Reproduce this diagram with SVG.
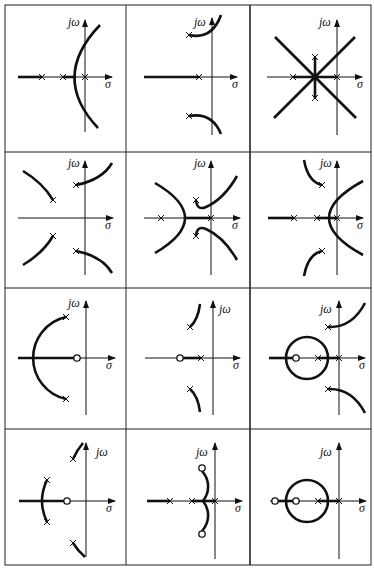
<svg xmlns="http://www.w3.org/2000/svg" xmlns:xlink="http://www.w3.org/1999/xlink" width="374" height="568" viewBox="0 0 374 568">
<style>
.grid{stroke:#222;stroke-width:1;fill:none}
.ax{stroke:#111;stroke-width:1;fill:none}
.loc{stroke:#111;stroke-width:2.6;fill:none;stroke-linecap:butt}
.x{stroke:#111;stroke-width:1;fill:none}
.z{stroke:#111;stroke-width:1.3;fill:#fff}
.lbl{font-family:"Liberation Serif",serif;font-style:italic;font-size:12px;fill:#111}
</style>
<defs>
<marker id="ar" markerWidth="8" markerHeight="6" refX="7" refY="3" orient="auto" markerUnits="userSpaceOnUse">
<path d="M0,0L8,3L0,6Z" fill="#111"/>
</marker>
<path id="cr" d="M-3,-3L3,3M-3,3L3,-3" class="x"/>
</defs>
<rect width="374" height="568" fill="#fff"/>
<g id="grid" class="grid">
<rect x="5" y="5" width="366" height="560"/>
<line x1="126" y1="5" x2="126" y2="565"/>
<line x1="250" y1="5" x2="250" y2="565" stroke-width="1.6"/>
<line x1="5" y1="152" x2="371" y2="152"/>
<line x1="5" y1="288" x2="371" y2="288"/>
<line x1="5" y1="429" x2="371" y2="429"/>
</g>

<g id="p11">
<line class="ax" x1="18" y1="77" x2="112" y2="77" marker-end="url(#ar)"/>
<line class="ax" x1="85" y1="132" x2="85" y2="20" marker-end="url(#ar)"/>
<text class="lbl" x="68" y="26">jω</text>
<text class="lbl" x="105" y="88">σ</text>
<line class="loc" x1="18" y1="77" x2="42" y2="77"/>
<line class="loc" x1="63" y1="77" x2="76" y2="77"/>
<path class="loc" d="M100,25 Q50,77 98,128"/>
<use xlink:href="#cr" x="42" y="77"/><use xlink:href="#cr" x="63" y="77"/><use xlink:href="#cr" x="85" y="77"/>
</g>

<g id="p12">
<line class="ax" x1="144" y1="77" x2="237" y2="77" marker-end="url(#ar)"/>
<line class="ax" x1="212" y1="135" x2="212" y2="18" marker-end="url(#ar)"/>
<text class="lbl" x="194" y="26">jω</text>
<text class="lbl" x="232" y="88">σ</text>
<line class="loc" x1="144" y1="77" x2="199" y2="77"/>
<path class="loc" d="M189,35 Q212,40 221,15"/>
<path class="loc" d="M189,116 Q212,112 221,134"/>
<use xlink:href="#cr" x="199" y="77"/><use xlink:href="#cr" x="189" y="35"/><use xlink:href="#cr" x="189" y="116"/>
</g>

<g id="p13">
<line class="ax" x1="267" y1="77" x2="362" y2="77" marker-end="url(#ar)"/>
<line class="ax" x1="337" y1="135" x2="337" y2="20" marker-end="url(#ar)"/>
<text class="lbl" x="319" y="26">jω</text>
<text class="lbl" x="357" y="88">σ</text>
<line class="loc" x1="293" y1="77" x2="337" y2="77"/>
<line class="loc" x1="315" y1="57" x2="315" y2="98"/>
<line class="loc" x1="275" y1="37" x2="356" y2="118"/>
<line class="loc" x1="355" y1="37" x2="274" y2="118"/>
<use xlink:href="#cr" x="293" y="77"/><use xlink:href="#cr" x="337" y="77"/><use xlink:href="#cr" x="315" y="57"/><use xlink:href="#cr" x="315" y="98"/>
</g>

<g id="p21">
<line class="ax" x1="18" y1="218" x2="113" y2="218" marker-end="url(#ar)"/>
<line class="ax" x1="85" y1="275" x2="85" y2="161" marker-end="url(#ar)"/>
<text class="lbl" x="68" y="167">jω</text>
<text class="lbl" x="105" y="229">σ</text>
<path class="loc" d="M53,200 Q43,183 23,171"/>
<path class="loc" d="M53,236 Q43,253 23,265"/>
<path class="loc" d="M76,185 Q102,180 112,163"/>
<path class="loc" d="M76,251 Q102,256 112,273"/>
<use xlink:href="#cr" x="53" y="200"/><use xlink:href="#cr" x="53" y="236"/><use xlink:href="#cr" x="76" y="185"/><use xlink:href="#cr" x="76" y="251"/>
</g>

<g id="p22">
<line class="ax" x1="144" y1="218" x2="240" y2="218" marker-end="url(#ar)"/>
<line class="ax" x1="211" y1="275" x2="211" y2="161" marker-end="url(#ar)"/>
<text class="lbl" x="194" y="167">jω</text>
<text class="lbl" x="232" y="229">σ</text>
<line class="loc" x1="185" y1="218" x2="211" y2="218"/>
<path class="loc" d="M155,183 Q215,218 155,253"/>
<path class="loc" d="M196,200 Q197,211 206,207 Q224,199 237,176"/>
<path class="loc" d="M196,236 Q197,225 206,229 Q224,237 237,260"/>
<use xlink:href="#cr" x="161" y="218"/><use xlink:href="#cr" x="211" y="218"/><use xlink:href="#cr" x="196" y="200"/><use xlink:href="#cr" x="196" y="236"/>
</g>

<g id="p23">
<line class="ax" x1="268" y1="218" x2="363" y2="218" marker-end="url(#ar)"/>
<line class="ax" x1="337" y1="275" x2="337" y2="161" marker-end="url(#ar)"/>
<text class="lbl" x="320" y="167">jω</text>
<text class="lbl" x="357" y="229">σ</text>
<line class="loc" x1="268" y1="218" x2="294" y2="218"/>
<line class="loc" x1="317" y1="218" x2="337" y2="218"/>
<path class="loc" d="M363,181 Q295,218 363,255"/>
<path class="loc" d="M322,185 Q308,182 304,160"/>
<path class="loc" d="M322,251 Q308,254 304,276"/>
<use xlink:href="#cr" x="294" y="218"/><use xlink:href="#cr" x="317" y="218"/><use xlink:href="#cr" x="337" y="218"/><use xlink:href="#cr" x="322" y="185"/><use xlink:href="#cr" x="322" y="251"/>
</g>

<g id="p31">
<line class="ax" x1="18" y1="358" x2="115" y2="358" marker-end="url(#ar)"/>
<line class="ax" x1="86" y1="415" x2="86" y2="301" marker-end="url(#ar)"/>
<text class="lbl" x="68" y="307">jω</text>
<text class="lbl" x="106" y="369">σ</text>
<line class="loc" x1="18" y1="358" x2="77" y2="358"/>
<path class="loc" d="M66,317 A42,42 0 0 0 66,399"/>
<use xlink:href="#cr" x="66" y="317"/><use xlink:href="#cr" x="66" y="399"/>
<circle class="z" cx="77" cy="358" r="3.2"/>
</g>

<g id="p32">
<line class="ax" x1="145" y1="358" x2="240" y2="358" marker-end="url(#ar)"/>
<line class="ax" x1="213" y1="415" x2="213" y2="301" marker-end="url(#ar)"/>
<text class="lbl" x="219" y="313">jω</text>
<text class="lbl" x="233" y="369">σ</text>
<line class="loc" x1="180" y1="358" x2="201" y2="358"/>
<path class="loc" d="M190,327 Q198,320 200,304"/>
<path class="loc" d="M190,389 Q198,396 200,412"/>
<use xlink:href="#cr" x="201" y="358"/><use xlink:href="#cr" x="190" y="327"/><use xlink:href="#cr" x="190" y="389"/>
<circle class="z" cx="180" cy="358" r="3.2"/>
</g>

<g id="p33">
<line class="ax" x1="269" y1="358" x2="365" y2="358" marker-end="url(#ar)"/>
<line class="ax" x1="339" y1="415" x2="339" y2="301" marker-end="url(#ar)"/>
<text class="lbl" x="320" y="313">jω</text>
<text class="lbl" x="359" y="369">σ</text>
<line class="loc" x1="269" y1="358" x2="296" y2="358"/>
<line class="loc" x1="318" y1="358" x2="339" y2="358"/>
<circle class="loc" cx="307" cy="358" r="21"/>
<path class="loc" d="M328,327 Q352,328 365,303"/>
<path class="loc" d="M328,389 Q352,388 365,413"/>
<use xlink:href="#cr" x="318" y="358"/><use xlink:href="#cr" x="339" y="358"/><use xlink:href="#cr" x="328" y="327"/><use xlink:href="#cr" x="328" y="389"/>
<circle class="z" cx="296" cy="358" r="3.2"/>
</g>

<g id="p41">
<line class="ax" x1="19" y1="501" x2="115" y2="501" marker-end="url(#ar)"/>
<line class="ax" x1="86" y1="557" x2="86" y2="443" marker-end="url(#ar)"/>
<text class="lbl" x="96" y="456">jω</text>
<text class="lbl" x="106" y="512">σ</text>
<line class="loc" x1="19" y1="501" x2="67" y2="501"/>
<path class="loc" d="M47,480 Q37,501 47,522"/>
<path class="loc" d="M73,459 Q77,450 83,443"/>
<path class="loc" d="M73,543 Q78,551 85,557"/>
<use xlink:href="#cr" x="47" y="480"/><use xlink:href="#cr" x="47" y="522"/><use xlink:href="#cr" x="73" y="459"/><use xlink:href="#cr" x="73" y="543"/>
<circle class="z" cx="67" cy="501" r="3.2"/>
</g>

<g id="p42">
<line class="ax" x1="147" y1="501" x2="242" y2="501" marker-end="url(#ar)"/>
<line class="ax" x1="215" y1="559" x2="215" y2="443" marker-end="url(#ar)"/>
<text class="lbl" x="196" y="456">jω</text>
<text class="lbl" x="235" y="512">σ</text>
<line class="loc" x1="147" y1="501" x2="170" y2="501"/>
<line class="loc" x1="192" y1="501" x2="215" y2="501"/>
<path class="loc" d="M202,471 C210,480 210,492 203,501 C210,510 210,522 202,531"/>
<use xlink:href="#cr" x="170" y="501"/><use xlink:href="#cr" x="192" y="501"/><use xlink:href="#cr" x="215" y="501"/>
<circle class="z" cx="202" cy="468" r="3.2"/>
<circle class="z" cx="202" cy="534" r="3.2"/>
</g>

<g id="p43">
<line class="ax" x1="270" y1="501" x2="366" y2="501" marker-end="url(#ar)"/>
<line class="ax" x1="339" y1="559" x2="339" y2="443" marker-end="url(#ar)"/>
<text class="lbl" x="320" y="456">jω</text>
<text class="lbl" x="359" y="512">σ</text>
<line class="loc" x1="275" y1="501" x2="296" y2="501"/>
<line class="loc" x1="318" y1="501" x2="339" y2="501"/>
<circle class="loc" cx="307" cy="501" r="21"/>
<use xlink:href="#cr" x="318" y="501"/><use xlink:href="#cr" x="339" y="501"/>
<circle class="z" cx="275" cy="501" r="3.2"/>
<circle class="z" cx="296" cy="501" r="3.2"/>
</g>
</svg>
